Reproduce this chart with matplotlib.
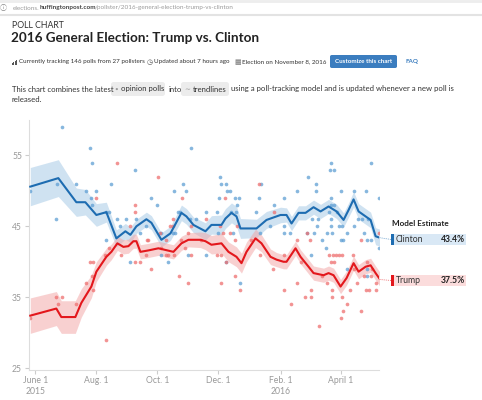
import numpy as np
import matplotlib
matplotlib.use("Agg")
import matplotlib.pyplot as plt
import matplotlib.dates as mdates
from matplotlib.patches import FancyBboxPatch, Rectangle
from matplotlib.lines import Line2D

plt.rcParams['font.family'] = ['Lato', 'DejaVu Sans']

# ---- data (days after 2015-06-01, percent) ----
START = np.datetime64('2015-06-01')

clinton_trend_day = [-5, 23, 41, 50, 61, 71, 81, 90, 95, 101, 111, 116, 126, 135, 146,
                     151, 158, 170, 176, 186, 190, 196, 201, 205, 221, 231, 245, 251, 256, 263,
                     270, 278, 285, 293, 301, 308, 313, 318, 323, 330, 335, 340, 344]
clinton_trend = [50.6, 51.8, 48.4, 48.4, 46.6, 47.0, 43.3, 44.3, 43.8, 45.0, 46.0, 45.5, 43.1, 44.0, 46.9,
                 46.4, 45.2, 44.3, 45.2, 45.2, 46.1, 46.9, 46.4, 44.7, 44.7, 45.9, 46.6, 46.6, 45.4, 46.9,
                 46.9, 47.7, 47.1, 47.8, 47.1, 45.9, 47.3, 48.8, 47.1, 46.4, 45.9, 43.6, 43.4]
clinton_band = [2.7, 2.6, 2.0, 1.8, 1.6, 1.4, 1.2, 1.1, 1.1, 1.0, 1.0, 1.0, 1.0, 1.0, 1.1,
                1.1, 1.1, 1.2, 1.3, 1.4, 1.4, 1.4, 1.4, 1.4, 1.3, 1.2, 1.1, 1.0, 1.0, 1.0,
                1.0, 1.0, 1.0, 1.0, 1.0, 1.0, 1.0, 1.1, 1.1, 1.1, 1.1, 1.2, 1.2]

trump_trend_day = [-5, 21, 26, 40, 46, 56, 61, 71, 76, 82, 88, 93, 98, 101, 105,
                   113, 123, 138, 146, 153, 165, 170, 176, 186, 193, 201, 206, 211, 220, 226,
                   235, 241, 248, 251, 260, 265, 273, 278, 288, 293, 298, 305, 311, 318, 323,
                   330, 335, 340, 344]
trump_trend = [32.4, 33.4, 32.2, 32.2, 34.2, 36.5, 38.6, 40.7, 41.4, 42.6, 42.1, 42.2, 42.9, 42.9, 41.4,
               41.6, 41.9, 41.4, 42.6, 43.1, 43.1, 42.9, 42.4, 42.6, 41.4, 40.7, 39.8, 41.4, 43.3, 42.6,
               40.7, 40.3, 40.0, 40.0, 41.9, 40.7, 39.3, 38.4, 38.1, 38.4, 38.1, 36.5, 37.7, 39.8, 38.6,
               39.3, 39.5, 38.4, 37.6]
trump_band = [2.5, 2.4, 2.3, 2.3, 2.0, 1.6, 1.4, 1.2, 1.1, 1.0, 1.0, 1.0, 1.0, 1.0, 1.0,
              1.0, 1.0, 1.0, 1.0, 1.0, 1.1, 1.2, 1.3, 1.4, 1.4, 1.4, 1.4, 1.4, 1.3, 1.2,
              1.1, 1.0, 1.0, 1.0, 1.0, 1.0, 1.0, 1.0, 1.0, 1.0, 1.0, 1.0, 1.0, 1.0, 1.0,
              1.0, 1.0, 1.0, 1.0]

clinton_poll_day = [-5, 27, 22, 21, 41, 55, 57, 51, 56, 57, 61, 76, 71, 74, 71, 82, 85, 91, 95, 100,
                    101, 105, 111, 116, 122, 126, 126, 133, 139, 138, 148, 151, 145, 153, 156, 155, 161,
                    140, 143, 171, 171, 182, 183, 184, 185, 186, 191, 192, 195, 196, 198, 200, 201, 202,
                    204, 191, 205, 221, 224, 225, 226, 234, 238, 248, 248, 248, 254, 261, 271, 272, 276,
                    278, 280, 280, 281, 282, 286, 291, 293, 294, 295, 295, 295, 295, 295, 296, 298, 298,
                    301, 303, 305, 305, 306, 307, 311, 318, 318, 322, 326, 328, 330, 331, 332, 335, 335,
                    343, 343, 275, 290, 311, 331, 331]
clinton_poll = [50, 59, 51, 46, 51, 56, 54, 50, 49, 48, 50, 51, 47, 47, 43, 46, 45, 46, 40, 53,
                46, 44, 45, 49, 48, 41, 44, 40, 50, 44, 51, 50, 47, 41, 56, 46, 46,
                44, 47, 41, 47, 47, 44, 49, 52, 51, 51, 50, 50, 47, 44, 49, 47, 48,
                49, 40, 37, 47, 49, 44, 51, 45, 48, 49, 45, 44, 44, 50, 44, 52, 46,
                44, 51, 50, 45, 46, 43, 44, 47, 53, 54, 49, 48, 46, 45, 44, 53, 48,
                47, 45, 50, 43, 45, 43, 44, 50, 45, 46, 46, 44, 50, 43, 46, 54, 43,
                49, 42, 41, 42, 39, 39, 38]

trump_poll_day = [-5, 21, 27, 23, 41, 51, 55, 58, 57, 58, 61, 71, 70, 74, 82, 86, 95, 100, 100, 100,
                  105, 111, 113, 116, 123, 126, 131, 135, 138, 138, 144, 146, 147, 150, 153, 153, 156,
                  125, 112, 131, 133, 139, 156, 166, 171, 182, 185, 186, 186, 188, 190, 191, 195, 200,
                  200, 202, 205, 216, 224, 225, 237, 238, 248, 248, 255, 261, 261, 265, 269, 271, 274,
                  275, 275, 283, 286, 291, 293, 295, 296, 296, 297, 298, 300, 303, 306, 306, 307, 305,
                  311, 314, 317, 318, 321, 325, 325, 328, 330, 331, 333, 335, 336, 340, 340, 343]
trump_poll = [32, 35, 35, 34, 34, 37, 40, 40, 38, 36, 49, 29, 41, 42, 54, 41, 45, 48, 47, 40,
              40, 41, 43, 39, 52, 42, 41, 45, 46, 45, 38, 43, 49, 42, 37, 44, 41,
              44, 43, 43, 41, 41, 45, 43, 46, 41, 45, 41, 37, 44, 49, 40, 44, 43,
              38, 45, 36, 43, 51, 41, 39, 47, 41, 36, 34, 37, 43, 40, 35, 44, 43,
              36, 35, 31, 38, 37, 41, 40, 36, 35, 41, 40, 41, 41, 41, 35, 33, 32,
              34, 36, 41, 39, 37, 33, 43, 38, 36, 40, 36, 38, 39, 37, 36, 44]

clinton_estimate = 43.4
trump_estimate = 37.5

tick_dates = ['2015-06-01', '2015-08-01', '2015-10-01', '2015-12-01', '2016-02-01', '2016-04-01']
tick_labels = ['June 1\n2015', 'Aug. 1', 'Oct. 1', 'Dec. 1', 'Feb. 1\n2016', 'April 1']
y_ticks = [25, 35, 45, 55]


def to_dates(days):
    return START + np.array(days).astype('timedelta64[D]')


# ---- figure in pixel units ----
W, H = 482, 400
fig = plt.figure(figsize=(W / 100, H / 100), dpi=100)


def fx(x):
    return x / W


def fy(y):
    return 1 - y / H


TXT = '#333333'

# browser url bar
fig.add_artist(Line2D([0, 1], [fy(1), fy(1)], color='#ededed', lw=2))
fig.add_artist(Line2D([0, 1], [fy(15), fy(15)], color='#e3e3e3', lw=1.5))
fig.text(fx(0), fy(8), '\u24d8', fontsize=5, color='#888888', va='center',
         family=['Noto Sans CJK JP', 'DejaVu Sans'])
fig.text(fx(13), fy(8), 'elections.', fontsize=4.6, color='#9a9a9a', va='center')
fig.text(fx(40), fy(8), 'huffingtonpost.com', fontsize=4.6, color='#444444', va='center', fontweight='bold')
fig.text(fx(95), fy(8), '/pollster/2016-general-election-trump-vs-clinton', fontsize=4.6,
         color='#9a9a9a', va='center')

# header
fig.text(fx(12), fy(25), 'POLL CHART', fontsize=6.3, color=TXT, va='center')
fig.text(fx(11), fy(38), '2016 General Election: Trump vs. Clinton', fontsize=9.7,
         fontweight='bold', color='#222222', va='center')

# small bar icon
for i, hgt in enumerate([1.5, 2.5, 3.5, 4.5]):
    fig.add_artist(Rectangle((fx(12 + i * 1.4), fy(64.5)), 0.9 / W, hgt / H,
                             facecolor='#555555', edgecolor='none', transform=fig.transFigure))
fig.text(fx(19), fy(62), 'Currently tracking 146 polls from 27 pollsters', fontsize=4.5, color=TXT, va='center')
fig.text(fx(146.5), fy(62), '\u25f7', fontsize=5, color='#555555', va='center', family='DejaVu Sans')
fig.text(fx(154), fy(62), 'Updated about 7 hours ago', fontsize=4.5, color=TXT, va='center')
fig.text(fx(234.5), fy(62), '\u25a6', fontsize=5, color='#777777', va='center', family='DejaVu Sans')
fig.text(fx(242), fy(62), 'Election on November 8, 2016', fontsize=4.5, color=TXT, va='center')
fig.add_artist(FancyBboxPatch((fx(330), fy(68)), (397 - 330) / W, 13 / H,
                              boxstyle='round,pad=0,rounding_size=0.004',
                              facecolor='#3b7dbf', edgecolor='none', transform=fig.transFigure))
fig.text(fx(363.5), fy(61.8), 'Customize this chart', fontsize=4.5, color='white', fontweight='bold',
         ha='center', va='center')
fig.text(fx(406), fy(62), 'FAQ', fontsize=4.5, color='#3b7dbf', fontweight='bold', va='center')

# description
for x0, x1 in [(111, 165), (181, 229)]:
    fig.add_artist(FancyBboxPatch((fx(x0), fy(96)), (x1 - x0) / W, 14 / H,
                                  boxstyle='round,pad=0,rounding_size=0.006',
                                  facecolor='#ececec', edgecolor='none', transform=fig.transFigure))
DS = 5.6
fig.text(fx(12), fy(89), 'This chart combines the latest', fontsize=DS, color=TXT, va='center')
fig.text(fx(114.5), fy(89), '\u2022', fontsize=4.5, color='#999999', va='center')
fig.text(fx(121), fy(89), 'opinion polls', fontsize=DS, color=TXT, va='center')
fig.text(fx(169), fy(89), 'into', fontsize=DS, color=TXT, va='center')
fig.text(fx(184), fy(89.5), '\u223c', fontsize=5, color='#999999', va='center', family='DejaVu Sans')
fig.text(fx(192.5), fy(89), 'trendlines', fontsize=DS, color=TXT, va='center')
fig.text(fx(231), fy(89), 'using a poll-tracking model and is updated whenever a new poll is',
         fontsize=DS, color=TXT, va='center')
fig.text(fx(12), fy(100), 'released.', fontsize=DS, color=TXT, va='center')

# ---- chart ----
ax = fig.add_axes([fx(29), fy(369.5), (379 - 29) / W, (369.5 - 120) / H])

c_day = to_dates(clinton_trend_day)
t_day = to_dates(trump_trend_day)
c_mid = np.array(clinton_trend)
t_mid = np.array(trump_trend)

ax.fill_between(c_day, c_mid - np.array(clinton_band), c_mid + np.array(clinton_band),
                color='#a8cbe7', alpha=0.55, lw=0, zorder=1)
ax.fill_between(t_day, t_mid - np.array(trump_band), t_mid + np.array(trump_band),
                color='#f2a3a3', alpha=0.5, lw=0, zorder=1)

ax.scatter(to_dates(clinton_poll_day), clinton_poll, s=7, color='#5f9fd4', alpha=0.75, lw=0, zorder=2)
ax.scatter(to_dates(trump_poll_day), trump_poll, s=7, color='#ee6f6f', alpha=0.75, lw=0, zorder=2)

ax.plot(c_day, c_mid, color='#1d6cb1', lw=1.5, zorder=3, solid_joinstyle='round')
ax.plot(t_day, t_mid, color='#e3171c', lw=1.5, zorder=3, solid_joinstyle='round')

x0 = mdates.date2num(START)
ax.set_xlim(x0 - 6.3, x0 + 343.4)
ax.set_ylim(24.8, 60)
ax.set_xticks(mdates.date2num(np.array(tick_dates, dtype='datetime64[D]')))
ax.set_xticklabels(tick_labels)
ax.set_yticks(y_ticks)
ax.tick_params(axis='both', colors='#cccccc', labelcolor='#999999', labelsize=6.2, length=3, width=0.8, pad=2)
for side in ['top', 'right']:
    ax.spines[side].set_visible(False)
for side in ['left', 'bottom']:
    ax.spines[side].set_color('#dddddd')
    ax.spines[side].set_linewidth(0.8)

# ---- model estimate panel ----
fig.text(fx(392), fy(223.5), 'Model Estimate', fontsize=5.9, fontweight='bold', color='#222222', va='center')

to_fig = fig.transFigure.inverted()
end_x = mdates.date2num(c_day[-1])
for name, est, y_top, dark, light in [('Clinton', clinton_estimate, 234, '#1d6cb1', '#d9e8f5'),
                                      ('Trump', trump_estimate, 275, '#e3171c', '#fbdcdc')]:
    fig.add_artist(Rectangle((fx(391), fy(y_top + 11)), (466 - 391) / W, 11 / H,
                             facecolor=light, edgecolor='none', transform=fig.transFigure))
    fig.add_artist(Rectangle((fx(391), fy(y_top + 11)), 2.5 / W, 11 / H,
                             facecolor=dark, edgecolor='none', transform=fig.transFigure))
    fig.text(fx(396), fy(y_top + 5.7), name, fontsize=6.2, color=TXT, va='center')
    fig.text(fx(465), fy(y_top + 5.7), f'{est}%', fontsize=6.2, fontweight='bold', color='#222222',
             va='center', ha='right')
    px, py = to_fig.transform(ax.transData.transform((end_x, est)))
    fig.add_artist(Line2D([px, fx(391)], [py, fy(y_top + 5.5)], color=dark, lw=0.6,
                          ls=(0, (1, 1.5)), alpha=0.8))

fig.savefig('out.png', dpi=100)
